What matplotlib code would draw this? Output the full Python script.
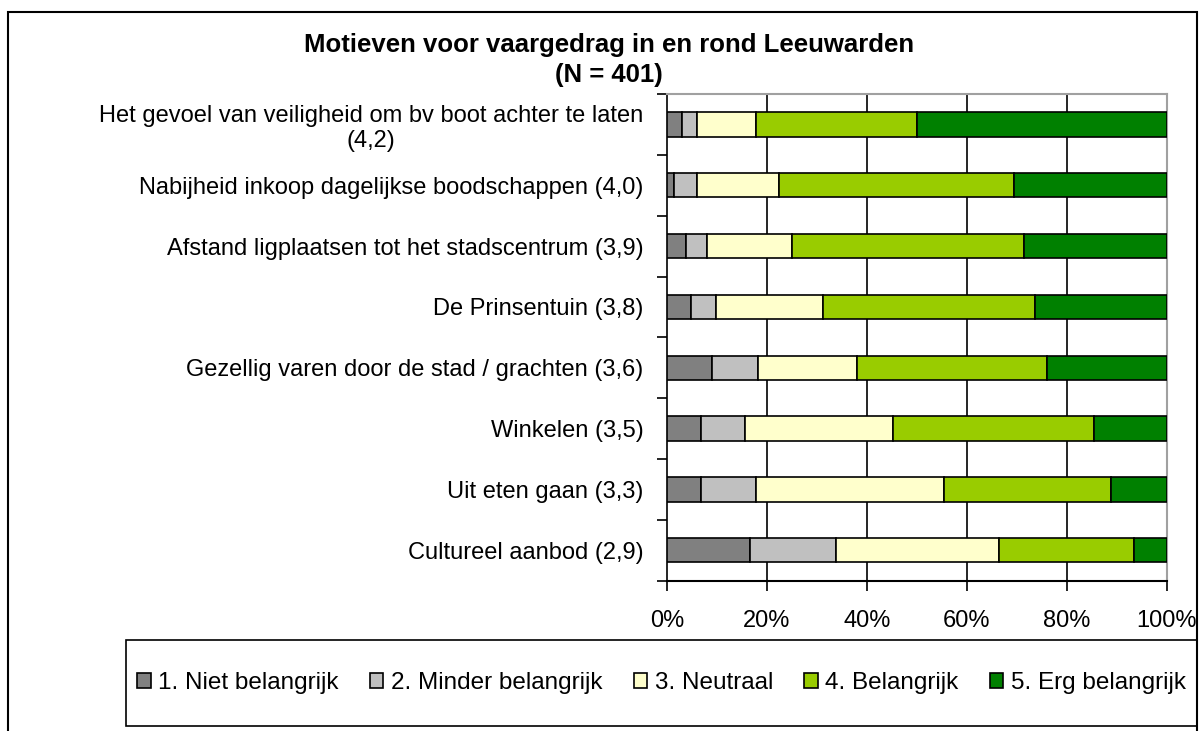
import matplotlib
matplotlib.use('Agg')
import matplotlib.pyplot as plt
from matplotlib.patches import Rectangle
import numpy as np

plt.rcParams['font.family'] = ['Liberation Sans', 'DejaVu Sans']

# Categories, top to bottom
labels = [
    'Het gevoel van veiligheid om bv boot achter te laten\n(4,2)',
    'Nabijheid inkoop dagelijkse boodschappen (4,0)',
    'Afstand ligplaatsen tot het stadscentrum (3,9)',
    'De Prinsentuin (3,8)',
    'Gezellig varen door de stad / grachten (3,6)',
    'Winkelen (3,5)',
    'Uit eten gaan (3,3)',
    'Cultureel aanbod (2,9)',
]

# Percentages per answer category
niet_belangrijk = [2.9, 1.4, 3.7, 4.8, 9.0, 6.8, 6.8, 16.6]
minder_belangrijk = [3.1, 4.6, 4.2, 4.9, 9.1, 8.7, 11.0, 17.2]
neutraal = [11.8, 16.3, 17.1, 21.4, 19.8, 29.7, 37.6, 32.6]
belangrijk = [32.2, 47.1, 46.3, 42.5, 38.0, 40.2, 33.4, 27.0]
erg_belangrijk = [50.0, 30.6, 28.7, 26.4, 24.1, 14.6, 11.2, 6.6]

series = [niet_belangrijk, minder_belangrijk, neutraal, belangrijk, erg_belangrijk]
series_names = ['1. Niet belangrijk', '2. Minder belangrijk', '3. Neutraal',
                '4. Belangrijk', '5. Erg belangrijk']
colors = ['#808080', '#C0C0C0', '#FFFFCC', '#99CC00', '#008000']

W, H = 1201, 731
fig = plt.figure(figsize=(W / 100, H / 100), dpi=100)

# outer frame and legend frame
fig.patches.append(Rectangle((8 / W, -0.05), (1197 - 8) / W, 1.05 - 12 / H,
                             transform=fig.transFigure, fill=False,
                             edgecolor='black', linewidth=1.5))
fig.patches.append(Rectangle((126 / W, 1 - 726 / H), (1197 - 126) / W, (726 - 640) / H,
                             transform=fig.transFigure, fill=False,
                             edgecolor='black', linewidth=1.2))

ax = fig.add_axes([667 / W, 1 - 580.7 / H, 500 / W, (580.7 - 94) / H])

y = np.arange(len(labels))
left = np.zeros(len(labels))
for vals, name, c in zip(series, series_names, colors):
    ax.barh(y, vals, left=left, height=0.4, color=c, edgecolor='black',
            linewidth=1.2, label=name, zorder=3)
    left = left + np.array(vals)

ax.set_xlim(0, 100)
ax.set_ylim(len(labels) - 0.5, -0.5)

ax.set_xticks([0, 20, 40, 60, 80, 100])
ax.set_xticklabels(['0%', '20%', '40%', '60%', '80%', '100%'], fontsize=17)
ax.tick_params(axis='x', length=7, width=1.2, pad=14)

ax.set_yticks(y)
ax.set_yticklabels(labels, fontsize=17)
for t in ax.get_yticklabels():
    t.set_multialignment('center')
ax.tick_params(axis='y', which='major', length=0, pad=17)
ax.set_yticks(np.arange(-0.5, len(labels)), minor=True)
ax.tick_params(axis='y', which='minor', length=7, width=1.2)

for xv in [20, 40, 60, 80]:
    ax.axvline(xv, color='black', linewidth=1.2, zorder=1)

ax.spines['left'].set_linewidth(1.2)
ax.spines['bottom'].set_linewidth(1.5)
ax.spines['top'].set_color('#A0A0A0')
ax.spines['right'].set_color('#A0A0A0')
ax.spines['top'].set_linewidth(1.5)
ax.spines['right'].set_linewidth(1.5)

fig.text(609 / W, 1 - 45 / H, 'Motieven voor vaargedrag in en rond Leeuwarden',
         ha='center', va='center', fontsize=18.5, fontweight='bold')
fig.text(609 / W, 1 - 75 / H, '(N = 401)', ha='center', va='center',
         fontsize=18.5, fontweight='bold')

fig.legend(loc='center', bbox_to_anchor=((126 + 1197) / 2 / W, 1 - 683 / H),
           ncol=5, frameon=False, fontsize=17.5, handlelength=0.55, handleheight=0.55,
           handletextpad=0.3, columnspacing=1.3)

fig.savefig('out.png', dpi=100)
